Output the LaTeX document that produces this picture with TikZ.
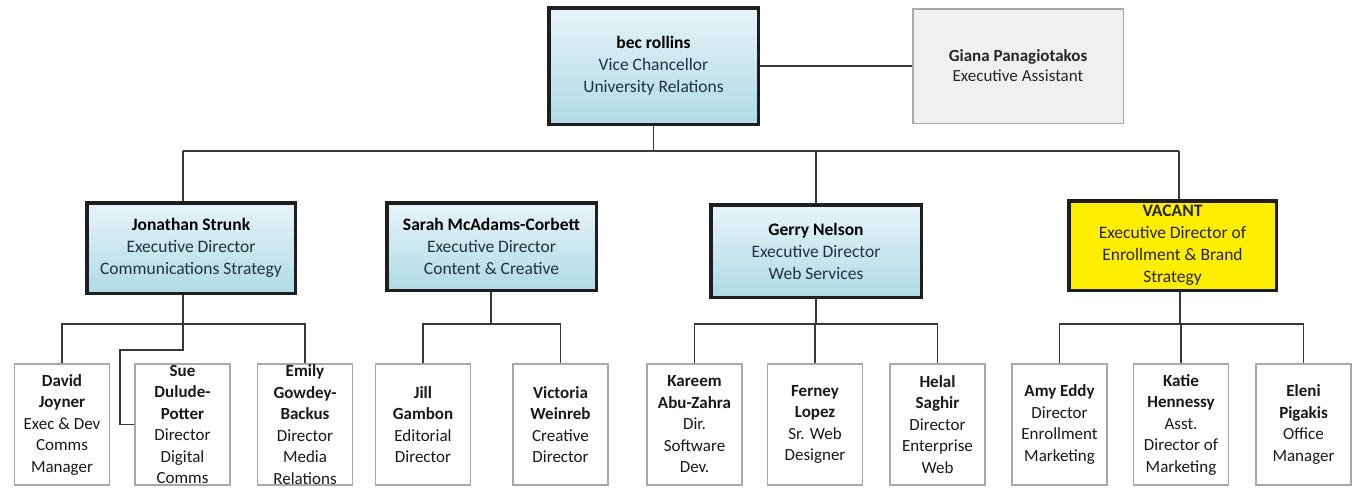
\documentclass[tikz,border=0pt]{standalone}
\usepackage{fontspec}
\setmainfont{Carlito}
\definecolor{bluetop}{HTML}{E6F4F8}
\definecolor{bluebot}{HTML}{AFDAE5}
\definecolor{edgecol}{HTML}{1E1E1E}
\definecolor{conncol}{HTML}{383838}
\definecolor{titlecol}{HTML}{1F3245}
\definecolor{staffgray}{HTML}{A8A8A8}
\definecolor{asstfill}{HTML}{F0F0F0}
\definecolor{vacfill}{HTML}{FFEE00}
\begin{document}
\begin{tikzpicture}[x=1pt,y=-1pt,
  execbox/.style={draw=edgecol, line width=3.5pt, top color=bluetop, bottom color=bluebot,
    inner sep=0pt, align=center, text=titlecol, font=\fontsize{17.5}{22}\selectfont},
  vacbox/.style={draw=edgecol, line width=3.5pt, fill=vacfill,
    inner sep=0pt, align=center, text=black!85, font=\fontsize{17.5}{22}\selectfont},
  asstbox/.style={draw=staffgray, line width=1.5pt, fill=asstfill,
    inner sep=0pt, align=center, text=black!85, font=\fontsize{17}{20}\selectfont},
  staffbox/.style={draw=staffgray, line width=1.5pt, fill=white,
    minimum width=95pt, minimum height=121pt, inner sep=0pt, align=center,
    text=black!90, font=\fontsize{17}{21.5}\selectfont},
  conn/.style={draw=conncol, line width=1.8pt}
]
\useasboundingbox[fill=white] (0,0) rectangle (1356,488);

% top level
\node[execbox, minimum width=209.5pt, minimum height=116.5pt] (bec) at (653.5,66)
  {\textcolor{black}{\textbf{bec rollins}}\\Vice Chancellor\\University Relations};
\node[asstbox, minimum width=210.5pt, minimum height=114.5pt] (giana) at (1018,66)
  {\textbf{Giana Panagiotakos}\\Executive Assistant};

% second level
\node[execbox, minimum width=208.5pt, minimum height=90.5pt] (jon) at (191,248)
  {\textcolor{black}{\textbf{Jonathan Strunk}}\\Executive Director\\Communications Strategy};
\node[execbox, minimum width=209.5pt, minimum height=87.5pt] (sarah) at (491.5,246.5)
  {\textcolor{black}{\textbf{Sarah McAdams-Corbett}}\\Executive Director\\Content \& Creative};
\node[execbox, minimum width=210.5pt, minimum height=92.5pt] (gerry) at (816,251)
  {\textcolor{black}{\textbf{Gerry Nelson}}\\Executive Director\\Web Services};
\node[vacbox, minimum width=207.5pt, minimum height=89.5pt] (vacant) at (1172.5,245.5)
  {\textbf{VACANT}\\Executive Director of\\Enrollment \& Brand\\Strategy};

% third level
\node[staffbox] (david) at (62,424.5) {\textbf{David}\\\textbf{Joyner}\\Exec \& Dev\\Comms\\Manager};
\node[staffbox] (sue) at (182.5,424.5) {\textbf{Sue}\\\textbf{Dulude-}\\\textbf{Potter}\\Director\\Digital\\Comms};
\node[staffbox] (emily) at (305,424.5) {\textbf{Emily}\\\textbf{Gowdey-}\\\textbf{Backus}\\Director\\Media\\Relations};
\node[staffbox] (jill) at (423,424.5) {\textbf{Jill}\\\textbf{Gambon}\\Editorial\\Director};
\node[staffbox] (victoria) at (560.5,424.5) {\textbf{Victoria}\\\textbf{Weinreb}\\Creative\\Director};
\node[staffbox] (kareem) at (694.5,424.5) {\textbf{Kareem}\\\textbf{Abu-Zahra}\\Dir.\\Software\\Dev.};
\node[staffbox] (ferney) at (815,424.5) {\textbf{Ferney}\\\textbf{Lopez}\\Sr. Web\\Designer};
\node[staffbox] (helal) at (937.5,424.5) {\textbf{Helal}\\\textbf{Saghir}\\Director\\Enterprise\\Web};
\node[staffbox] (amy) at (1059.5,424.5) {\textbf{Amy Eddy}\\Director\\Enrollment\\Marketing};
\node[staffbox] (katie) at (1181,424.5) {\textbf{Katie}\\\textbf{Hennessy}\\Asst.\\Director of\\Marketing};
\node[staffbox] (eleni) at (1303.5,424.5) {\textbf{Eleni}\\\textbf{Pigakis}\\Office\\Manager};

% junction coordinates
\coordinate (barL) at (183,151);
\coordinate (barR) at (1179,151);
\coordinate (jb) at (183,324);
\coordinate (elb) at (120,350);
\coordinate (sb) at (491,324);
\coordinate (gb) at (816,324);
\coordinate (vb) at (1180,324);

% top connectors
\draw[conn] (bec.east) -- (giana.west);
\draw[conn] (bec.south) -- (bec.south |- barL);
\draw[conn] (barL) -- (barR);
\draw[conn] (barL) -- (barL |- jon.north);
\draw[conn] (gerry.north) -- (gerry.north |- barL);
\draw[conn] (barR) -- (barR |- vacant.north);

% Jonathan's team
\draw[conn] (jb |- jon.south) -- (jb);
\draw[conn] (david.north) -- (david.north |- jb) -- (emily.north |- jb) -- (emily.north);
\draw[conn] (jb) -- (jb |- elb) -- (elb) -- (elb |- sue.west) -- (sue.west);

% Sarah's team
\draw[conn] (sb |- sarah.south) -- (sb);
\draw[conn] (jill.north) -- (jill.north |- sb) -- (victoria.north |- sb) -- (victoria.north);

% Gerry's team
\draw[conn] (gerry.south) -- (gb);
\draw[conn] (kareem.north) -- (kareem.north |- gb) -- (helal.north |- gb) -- (helal.north);
\draw[conn] (ferney.north |- gb) -- (ferney.north);

% Vacant's team
\draw[conn] (vb |- vacant.south) -- (vb);
\draw[conn] (amy.north) -- (amy.north |- vb) -- (eleni.north |- vb) -- (eleni.north);
\draw[conn] (katie.north |- vb) -- (katie.north);
\end{tikzpicture}
\end{document}
